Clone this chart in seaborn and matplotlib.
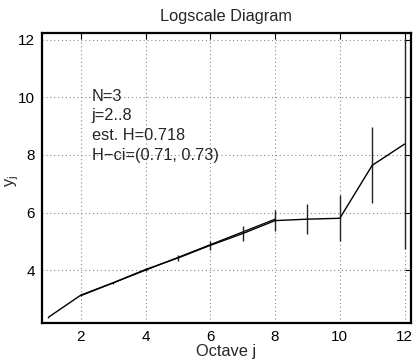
import numpy as np
import pandas as pd
import matplotlib
matplotlib.use("Agg")
import matplotlib.pyplot as plt
import seaborn as sns

# data
octaves = [1, 2, 3, 4, 5, 6, 7, 8, 9, 10, 11, 12]
yj = [2.36, 3.13, 3.56, 4.02, 4.42, 4.86, 5.27, 5.72, 5.77, 5.80, 7.64, 8.38]
err = [0.01, 0.02, 0.04, 0.06, 0.10, 0.15, 0.26, 0.36, 0.53, 0.80, 1.32, 3.65]
fit_j = [2, 8]
fit_y = [3.11, 5.77]
info_lines = ["N=3", "j=2..8", "est. H=0.718", "H\u2212ci=(0.71, 0.73)"]
xticks = [2, 4, 6, 8, 10, 12]
yticks = [4, 6, 8, 10, 12]

sns.set_style("white")
plt.rcParams['font.family'] = ['Liberation Sans', 'DejaVu Sans']

df = pd.DataFrame({"j": octaves, "y": yj, "e": err})
dfit = pd.DataFrame({"j": fit_j, "y": fit_y})

fig = plt.figure(figsize=(4.14, 3.64), dpi=100)
ax = fig.add_axes([0.1014, 0.1126, 0.8914, 0.7967])

ax.errorbar(df["j"], df["y"], yerr=df["e"], fmt='none', ecolor='#222222',
            elinewidth=1.0, capsize=0, zorder=2)
sns.lineplot(data=df, x="j", y="y", ax=ax, color='black', linewidth=1.0,
             estimator=None, sort=False, zorder=3)
sns.lineplot(data=dfit, x="j", y="y", ax=ax, color='black', linewidth=0.9,
             estimator=None, sort=False, zorder=3)

ax.set_xlim(0.8, 12.2)
ax.set_ylim(2.16, 12.24)
ax.set_xticks(xticks)
ax.set_yticks(yticks)
ax.grid(True, color='#888888', linestyle=(0, (1, 2.5)), linewidth=0.8)
ax.tick_params(direction='in', length=4, width=0.8, top=True, right=True,
               labelsize=11, colors='black', pad=5)
for s in ax.spines.values():
    s.set_visible(True)
    s.set_color('black')
    s.set_linewidth(1.6)

ax.set_title("Logscale Diagram", fontsize=11.8, pad=9)
ax.set_xlabel("Octave j", fontsize=11.8, labelpad=0)
ax.set_ylabel(r"y$_\mathregular{j}$", fontsize=11.8)
ax.yaxis.set_label_coords(-0.058, 0.49)

ax.text(2.33, 10.30, "\n".join(info_lines), fontsize=11.8, va='top', ha='left',
        linespacing=1.38)

fig.savefig("out.png", dpi=100)
